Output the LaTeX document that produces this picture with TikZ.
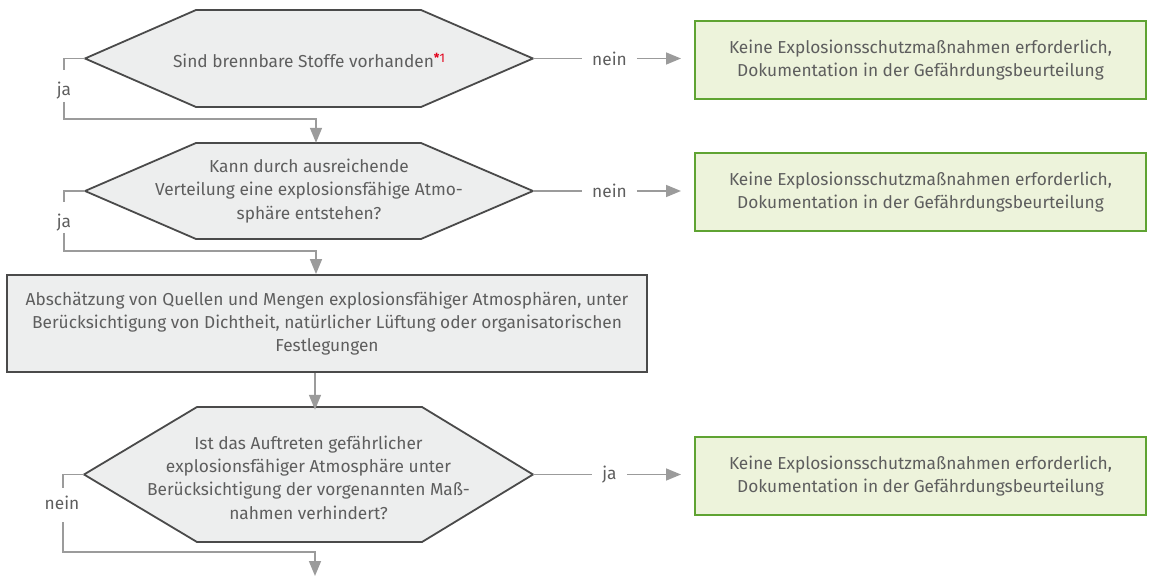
\documentclass[tikz,border=0pt]{standalone}
\usepackage{fontspec}
\setmainfont{Fira Sans}
\usetikzlibrary{arrows.meta}
\definecolor{txt}{HTML}{5E5E5E}
\definecolor{hexfill}{HTML}{EDEEEE}
\definecolor{hexdraw}{HTML}{4A4A4A}
\definecolor{boxfill}{HTML}{EDF3DB}
\definecolor{boxdraw}{HTML}{5FA332}
\definecolor{conn}{HTML}{9B9B9B}
\definecolor{star}{HTML}{E2001A}
\begin{document}
\begin{tikzpicture}[x=1pt,y=-1pt,
  every node/.style={text=txt, font=\fontsize{17.3}{23.3}\selectfont},
  hexshape/.style={fill=hexfill, draw=hexdraw, line width=1.8pt, line join=miter},
  hextext/.style={inner sep=0pt, align=center},
  result/.style={fill=boxfill, draw=boxdraw, line width=2pt, minimum width=451pt, minimum height=78pt, align=center, inner sep=0pt},
  proc/.style={fill=hexfill, draw=hexdraw, line width=1.8pt, minimum width=640pt, minimum height=97pt, align=center, inner sep=0pt},
  link/.style={draw=conn, line width=1.6pt},
  arrowlink/.style={link, -{Triangle[length=15pt,width=12pt]}},
  lbl/.style={inner xsep=10pt, inner ysep=0pt, anchor=center}
]
\useasboundingbox (0,0) rectangle (1149,577);

% hexagons
\draw[hexshape] (85,58.5) -- (196,10) -- (421,10) -- (533,58.5) -- (421,107) -- (196,107) -- cycle;
\node[hextext, minimum width=448pt, minimum height=97pt] (h1) at (309,60)
  {Sind brennbare Stoffe vorhanden\raisebox{5pt}{\color{star}\fontsize{12.5}{12.5}\selectfont\textbf{*}1}};

\draw[hexshape] (85,191) -- (196,143) -- (421,143) -- (533,191) -- (421,239) -- (196,239) -- cycle;
\node[hextext, minimum width=448pt, minimum height=96pt] (h2) at (309,191)
  {Kann durch ausreichende\\Verteilung eine explosionsfähige Atmo-\\sphäre entstehen?};

\draw[hexshape] (84,474.5) -- (197,407) -- (422,407) -- (533,474.5) -- (422,542) -- (197,542) -- cycle;
\node[hextext, minimum width=449pt, minimum height=135pt] (h3) at (308.5,477.5)
  {Ist das Auftreten gefährlicher\\explosionsfähiger Atmosphäre unter\\Berücksichtigung der vorgenannten Maß-\\nahmen verhindert?};

% process
\node[proc] (r) at (327,323.5)
  {Abschätzung von Quellen und Mengen explosionsfähiger Atmosphären, unter\\Berücksichtigung von Dichtheit, natürlicher Lüftung oder organisatorischen\\Festlegungen};

% results
\node[result] (b1) at (920.5,60) {Keine Explosionsschutzmaßnahmen erforderlich,\\Dokumentation in der Gefährdungsbeurteilung};
\node[result] (b2) at (920.5,192) {Keine Explosionsschutzmaßnahmen erforderlich,\\Dokumentation in der Gefährdungsbeurteilung};
\node[result] (b3) at (920.5,476) {Keine Explosionsschutzmaßnahmen erforderlich,\\Dokumentation in der Gefährdungsbeurteilung};

% right branches
\node[lbl] (n1) at (609.5,58.5) {nein};
\draw[link] (h1.east |- n1.west) -- (n1.west);
\draw[arrowlink, shorten >=13pt] (n1.east) -- (n1.east -| b1.west);

\node[lbl] (n2) at (609.5,191) {nein};
\draw[link] (h2.east) -- (n2.west);
\draw[arrowlink, shorten >=13pt] (n2.east) -- (n2.east -| b2.west);

\node[lbl] (n3) at (609.5,474.5) {ja};
\draw[link] (h3.east |- n3.west) -- (n3.west);
\draw[arrowlink, shorten >=13pt] (n3.east) -- (n3.east -| b3.west);

% left branches
\node[inner sep=0pt] (y1) at (64,90.5) {ja};
\coordinate (y1a) at (64,70);
\coordinate (y1b) at (64,102);
\coordinate (y1c) at (316,119);
\draw[link] (h1.west |- n1.west) -| (y1a);
\draw[arrowlink] (y1b) |- (y1c) -- (y1c |- h2.north);

\node[inner sep=0pt] (y2) at (64,222.5) {ja};
\coordinate (y2a) at (64,202);
\coordinate (y2b) at (64,233);
\coordinate (y2c) at (316,251);
\draw[link] (h2.west) -| (y2a);
\draw[arrowlink] (y2b) |- (y2c) -- (y2c |- r.north);

\draw[arrowlink] ([xshift=-12pt]r.south) -- ([xshift=-12pt]r.south |- h3.north);

\node[inner sep=0pt] (y3) at (62,503) {nein};
\coordinate (y3a) at (63,488);
\coordinate (y3b) at (63,522);
\coordinate (y3c) at (315,552);
\coordinate (y3d) at (315,576);
\draw[link] (h3.west |- n3.west) -| (y3a);
\draw[arrowlink] (y3b) |- (y3c) -- (y3d);
\end{tikzpicture}
\end{document}
